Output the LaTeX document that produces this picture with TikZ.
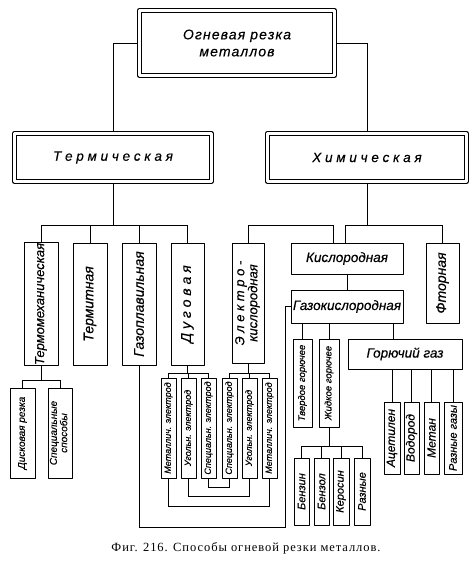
\documentclass[tikz,border=0pt]{standalone}
\usepackage{fontspec}
\setmainfont{Liberation Serif}
\newfontfamily\lab{Liberation Sans}[FakeBold=0.3]
\usetikzlibrary{backgrounds}
\tikzset{b/.style={draw,line width=0.9pt,inner sep=0pt,align=center,font=\lab\itshape\fontsize{13.5}{14}\selectfont}}
\tikzset{d/.style={b,double,double distance=3.6pt,line width=0.8pt}}
\tikzset{v/.style={b,font=\lab\itshape\fontsize{14}{14}\selectfont}}
\tikzset{s/.style={b,line width=0.8pt,font=\lab\itshape\fontsize{11}{11}\selectfont}}
\tikzset{e/.style={b,line width=0.8pt,minimum width=15pt,minimum height=100pt,font=\lab\itshape\fontsize{9}{9}\selectfont}}
\tikzset{w/.style={line width=0.6pt}}
\newcommand{\vt}[1]{\rotatebox{90}{#1}}
\newcommand{\vtt}[2]{\rotatebox{90}{\begin{tabular}{@{}c@{}}#1\\#2\end{tabular}}}

\begin{document}
\begin{tikzpicture}[x=1pt,y=-1pt,line join=round]
  \useasboundingbox (0,0) rectangle (476,562);
  \node[d,minimum width=195pt,minimum height=65pt,font=\lab\itshape\fontsize{14}{17}\selectfont\addfontfeature{LetterSpace=8}] (A) at (237,43) {Огневая резка\\металлов};
  \node[d,minimum width=197pt,minimum height=48pt] (B) at (113,157.5) {Т е р м и ч е с к а я};
  \node[d,minimum width=199pt,minimum height=48pt] (C) at (367,157.5) {Х и м и ч е с к а я};
  \node[v,minimum width=34pt,minimum height=122pt,font=\lab\itshape\fontsize{13}{13}\selectfont] (D) at (41,304) {\vt{Термомеханическая}};
  \node[v,minimum width=34pt,minimum height=122pt] (E) at (90,304) {\vt{Термитная}};
  \node[v,minimum width=34pt,minimum height=122pt] (F) at (139,304) {\vt{Газоплавильная}};
  \node[v,minimum width=33pt,minimum height=122pt] (G) at (187.5,304) {\vt{Д у г о в а я}};
  \node[v,minimum width=32pt,minimum height=120pt,font=\lab\itshape\fontsize{13}{12}\selectfont] (H) at (248,303) {\vtt{Э л е к т р о -}{кислородная}};
  \node[b,minimum width=112pt,minimum height=31pt] (I) at (347,258.5) {Кислородная};
  \node[v,minimum width=33pt,minimum height=80pt] (J) at (442.5,283) {\vt{Фторная}};
  \node[b,minimum width=112pt,minimum height=33pt] (K) at (347,306.5) {Газокислородная};
  \node[s,minimum width=19pt,minimum height=88pt,font=\lab\itshape\fontsize{9.5}{9.5}\selectfont] (L) at (302.5,383) {\vt{Твердое горючее}};
  \node[s,minimum width=20pt,minimum height=88pt,font=\lab\itshape\fontsize{9.5}{9.5}\selectfont] (M) at (329,383) {\vt{Жидкое горючее}};
  \node[b,minimum width=114pt,minimum height=30pt] (N) at (405,354) {Горючий газ};
  \node[s,minimum width=16pt,minimum height=72pt,font=\lab\itshape\fontsize{12}{12}\selectfont] (O) at (392,438) {\vt{Ацетилен}};
  \node[s,minimum width=15pt,minimum height=72pt,font=\lab\itshape\fontsize{12}{12}\selectfont] (P) at (411.5,438) {\vt{Водород}};
  \node[s,minimum width=15pt,minimum height=72pt,font=\lab\itshape\fontsize{12}{12}\selectfont] (Q) at (431.5,438) {\vt{Метан}};
  \node[s,minimum width=18pt,minimum height=72pt] (R) at (453,438) {\vt{Разные газы}};
  \node[s,minimum width=15pt,minimum height=67pt] (S) at (301.5,491.5) {\vt{Бензин}};
  \node[s,minimum width=15pt,minimum height=67pt] (T) at (321.5,491.5) {\vt{Бензол}};
  \node[s,minimum width=16pt,minimum height=67pt] (U) at (341,491.5) {\vt{Керосин}};
  \node[s,minimum width=16pt,minimum height=67pt] (V) at (362,491.5) {\vt{Разные}};
  \node[s,minimum width=25pt,minimum height=90pt,font=\lab\itshape\fontsize{10}{10}\selectfont] (W) at (22.5,433) {\vt{Дисковая резка}};
  \node[s,minimum width=24pt,minimum height=90pt,font=\lab\itshape\fontsize{10}{10}\selectfont] (X) at (60,433) {\vtt{Специальные}{способы}};
  \node[e] (e1) at (168.5,428) {\vt{Металлич. электрод}};
  \node[e] (e2) at (188.5,428) {\vt{Угольн. электрод}};
  \node[e] (e3) at (208.5,428) {\vt{Специальн. электрод}};
  \node[e] (e4) at (229.5,428) {\vt{Специальн. электрод}};
  \node[e] (e5) at (249.5,428) {\vt{Угольн. электрод}};
  \node[e] (e6) at (269.5,428) {\vt{Металлич. электрод}};
  \node[font=\fontsize{12.5}{13}\selectfont\addfontfeature{LetterSpace=7.5}] (Z) at (246,548) {Фиг. 216. Способы огневой резки металлов.};
  \begin{scope}[on background layer,w]
    \draw (A.west) -| (B.north);
    \draw (A.east) -| (C.north);
    \draw (B.south) -- (B.south |- 0,225);
    \draw (D.north) -- (D.north |- 0,225) -- (G.north |- 0,225) -- (G.north);
    \draw (E.north) -- (E.north |- 0,225);
    \draw (F.north) -- (F.north |- 0,225);
    \draw (C.south) -- (C.south |- 0,225);
    \draw (H.north) -- (H.north |- 0,225) -- (333,225) -- (I.north -| 333,0);
    \draw (I.north -| 345,0) -- (345,225) -- (J.north |- 0,225) -- (J.north);
    \draw (I.south) -- (K.north);
    \draw (K.west) -| (285,527) -| (F.south);
    \draw (K.south -| L.north) -- (L.north);
    \draw (K.south -| M.north) -- (M.north);
    \draw (K.south -| 393,0) -- (N.north -| 393,0);
    \draw (N.south -| O.north) -- (O.north);
    \draw (N.south -| P.north) -- (P.north);
    \draw (N.south -| Q.north) -- (Q.north);
    \draw (N.south -| R.north) -- (R.north);
    \draw (M.south) -- (M.south |- 0,446);
    \draw (S.north) -- (S.north |- 0,446) -- (V.north |- 0,446) -- (V.north);
    \draw (T.north) -- (T.north |- 0,446);
    \draw (U.north) -- (U.north |- 0,446);
    \draw (D.south) -- (D.south |- 0,380);
    \draw (W.north) -- (W.north |- 0,380) -- (X.north |- 0,380) -- (X.north);
    \draw (G.south) -- (G.south |- 0,373);
    \draw (e1.north) -- (e1.north |- 0,373) -- (e3.north |- 0,373) -- (e3.north);
    \draw (e2.north) -- (e2.north |- 0,373);
    \draw (H.south) -- (H.south |- 0,373);
    \draw (e4.north) -- (e4.north |- 0,373) -- (e6.north |- 0,373) -- (e6.north);
    \draw (e5.north) -- (e5.north |- 0,373);
    \draw (e3.south) |- (0,487 -| e4.south) -- (e4.south);
    \draw (e2.south) |- (0,496 -| e5.south) -- (e5.south);
    \draw (e1.south) |- (0,506 -| e6.south) -- (e6.south);
  \end{scope}
\end{tikzpicture}
\end{document}
